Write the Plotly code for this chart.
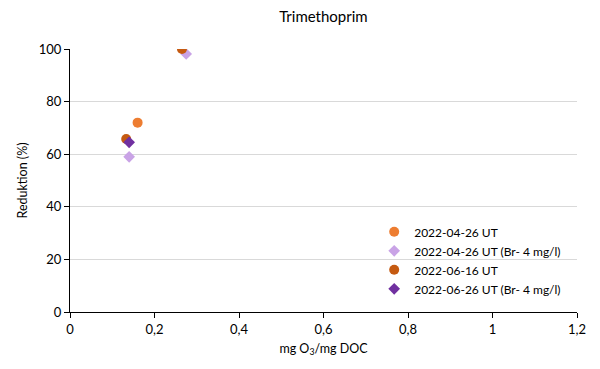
import plotly.graph_objects as go

# Ozone dose (mg O3 / mg DOC) and reduction (%) per test series
names = ["2022-04-26 UT", "2022-04-26 UT (Br- 4 mg/l)", "2022-06-16 UT", "2022-06-26 UT (Br- 4 mg/l)"]
x_0426 = [0.160]
y_0426 = [72.0]
x_0426_br = [0.140, 0.275]
y_0426_br = [59.0, 98.1]
x_0616 = [0.133, 0.265]
y_0616 = [65.8, 100.0]
x_0626_br = [0.140]
y_0626_br = [64.5]

x_ticks = [0, 0.2, 0.4, 0.6, 0.8, 1.0, 1.2]
x_tick_text = ["0", "0,2", "0,4", "0,6", "0,8", "1", "1,2"]
y_ticks = [0, 20, 40, 60, 80, 100]

series = [
    (names[0], x_0426, y_0426, "circle", "#ED7D31", 10),
    (names[1], x_0426_br, y_0426_br, "diamond", "#C9A3E6", 9),
    (names[2], x_0616, y_0616, "circle", "#C55A11", 10),
    (names[3], x_0626_br, y_0626_br, "diamond", "#7030A0", 9),
]

font = "Lato, 'Liberation Sans', sans-serif"

fig = go.Figure()
for name, xs, ys, sym, col, sz in series:
    fig.add_trace(go.Scatter(
        x=xs, y=ys, mode="markers", name=name,
        marker=dict(symbol=sym, color=col, size=sz, line=dict(width=0)),
    ))

fig.update_layout(
    width=600, height=369,
    margin=dict(l=70, r=23, t=49, b=57),
    paper_bgcolor="white", plot_bgcolor="white",
    font=dict(family=font, size=13, color="#000000"),
    title=dict(text="Trimethoprim", x=0.539, xanchor="center", y=0.955, yanchor="middle",
               font=dict(size=15, color="#000000")),
    showlegend=True,
    legend=dict(x=0.6, xanchor="left", y=0.36, yanchor="top",
                bgcolor="rgba(0,0,0,0)", font=dict(size=12),
                itemwidth=30, tracegroupgap=0),
    xaxis=dict(range=[0, 1.2], tickvals=x_ticks, ticktext=x_tick_text,
               showgrid=False, zeroline=False,
               showline=True, linecolor="#000000", linewidth=1,
               ticks="outside", ticklen=5, tickcolor="#000000",
               title=dict(text="mg O<sub>3</sub>/mg DOC", font=dict(size=12.5), standoff=8)),
    yaxis=dict(range=[0, 100], tickvals=y_ticks,
               showgrid=True, gridcolor="#D9D9D9", gridwidth=1, zeroline=False,
               showline=True, linecolor="#000000", linewidth=1,
               ticks="outside", ticklen=5, tickcolor="#000000",
               title=dict(text="Reduktion (%)", font=dict(size=12.5), standoff=8)),
)

fig.write_html("out.html")
